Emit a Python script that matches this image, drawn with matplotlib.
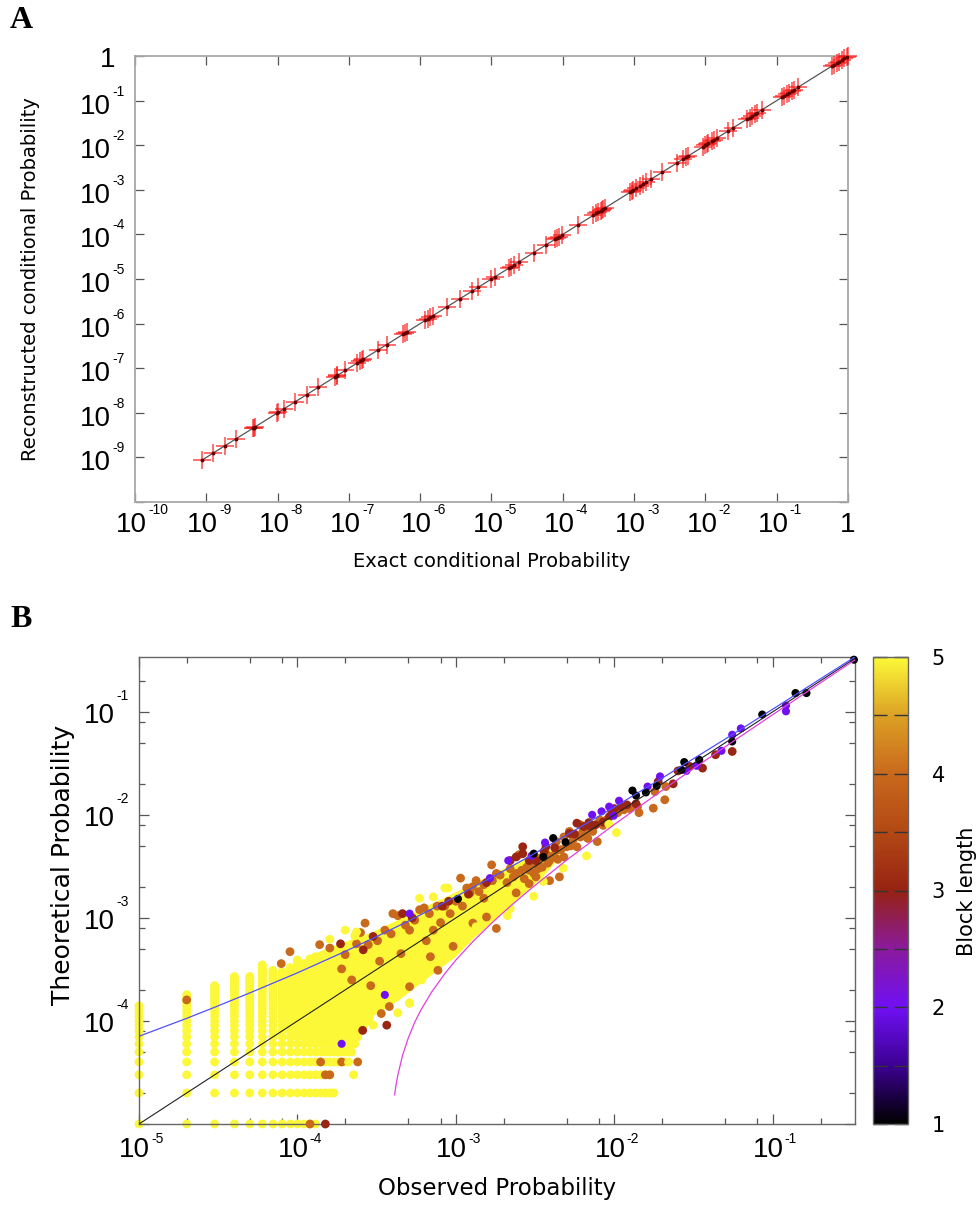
import matplotlib

matplotlib.use("Agg")
import matplotlib.pyplot as plt
import matplotlib.transforms as mtransforms
import numpy as np
from matplotlib.colors import LinearSegmentedColormap
from matplotlib.ticker import FixedLocator, LogLocator, NullFormatter, NullLocator

plt.rcParams["font.family"] = ["Liberation Sans", "DejaVu Sans"]

# ==========================================================================
# PANEL A DATA  (log10 of exact probability; reconstructed sits on diagonal)
# ==========================================================================
exact_log10 = [
    -9.06, -8.90, -8.74, -8.58, -8.34, -8.33, -8.32, -8.01, -7.99, -7.91,
    -7.76, -7.59, -7.43, -7.19, -7.17, -7.16, -7.05, -6.89, -6.84, -6.82,
    -6.80, -6.59, -6.47, -6.24, -6.21, -6.19, -5.93, -5.89, -5.86, -5.82,
    -5.63, -5.44, -5.28, -5.19, -5.00, -4.95, -4.76, -4.72, -4.69, -4.62,
    -4.41, -4.23, -4.11, -4.08, -4.06, -4.01, -3.78, -3.57, -3.53, -3.50,
    -3.47, -3.45, -3.43, -3.41, -3.06, -3.03, -3.01, -2.97, -2.92, -2.88,
    -2.83, -2.76, -2.61, -2.40, -2.31, -2.27, -2.24, -2.03, -2.00, -1.98,
    -1.96, -1.91, -1.88, -1.84, -1.68, -1.61, -1.42, -1.38, -1.35, -1.31,
    -1.28, -1.21, -0.93, -0.90, -0.86, -0.83, -0.79, -0.76, -0.70, -0.23,
    -0.20, -0.16, -0.13, -0.09, -0.05, -0.02, 0.00,
]
recon_log10 = list(exact_log10)

# ==========================================================================
# PANEL B DATA
# ==========================================================================
count_unit = 1e-5  # observed / theoretical probabilities are counts of 1e-5

# low-count lattice: columns (observed count -> highest theoretical count)
grid_col_counts = [1, 2, 3, 4, 5, 6, 7, 8, 9, 10, 11, 12, 13]
grid_col_tops = [14, 18, 22, 27, 27, 35, 31, 30, 33, 39, 36, 40, 42]
# rows (theoretical count -> highest observed count)
grid_row_counts = [1, 2, 3, 4, 5, 6, 7, 8, 9, 10]
grid_row_ends = [11, 17, 16, 20, 22, 23, 24, 25, 26, 28]

# outline of the dense yellow core
core_obs = [1.2e-4, 1.5e-4, 2e-4, 3e-4, 5e-4, 1e-3, 2e-3, 3e-3, 4.5e-3,
            3.5e-3, 3e-3, 1.9e-3, 1.22e-3, 9.6e-4, 6.2e-4, 4.2e-4, 2.6e-4, 1.2e-4]
core_theo = [3.8e-4, 4.5e-4, 5.3e-4, 6.6e-4, 9.6e-4, 1.6e-3, 2.7e-3, 3.6e-3, 4.4e-3,
             2.8e-3, 2.25e-3, 1.2e-3, 6.6e-4, 4.5e-4, 2.7e-4, 1.7e-4, 1.08e-4, 1.0e-4]

# scattered points, grouped by block length
obs_b5 = [1.14e-4, 1.6e-4, 2e-4, 2.36e-4, 2.3e-4, 5.9e-4, 7.2e-4, 8.5e-4, 8.9e-4,
          2.6e-4, 3.0e-4, 5.1e-4, 4.4e-4, 6.7e-4, 8.7e-4, 1.17e-3, 1.34e-3, 2.2e-3,
          2.11e-3, 3.56e-3, 4.75e-3, 6.67e-3, 9.22e-3, 1.03e-2, 5.1e-4, 6.1e-4,
          2.85e-4, 4.3e-4, 3.1e-3, 1.67e-4, 2.26e-4, 2.1e-4]
theo_b5 = [3.4e-4, 6.2e-4, 7.6e-4, 7.3e-4, 6.7e-4, 1.55e-3, 1.6e-3, 1.95e-3, 1.95e-3,
           1.09e-4, 9.1e-5, 1.48e-4, 2.0e-4, 3.2e-4, 4.2e-4, 6.1e-4, 8.2e-4, 1.23e-3,
           1.05e-3, 2.25e-3, 3.04e-3, 4.0e-3, 8.13e-3, 6.73e-3, 1.5e-4, 2.5e-4,
           1.07e-4, 1.2e-4, 1.62e-3, 2e-5, 3e-5, 4e-5]

obs_b4 = [0.0211, 0.0208, 0.0180, 0.0176, 0.0143, 0.0125, 0.0140, 0.0081, 0.0078,
          0.0068, 0.0061, 0.0061, 0.0050, 0.0043, 0.0037, 0.0028, 0.0024, 0.0031,
          0.0035, 0.0025, 0.0039, 0.0045, 0.0022, 0.0029, 0.0032, 0.0039, 0.0048,
          0.0058, 0.0073, 0.0052, 0.0043, 0.0048, 0.0032, 0.0018, 0.00123, 0.00134,
          0.0029, 0.0024, 0.0018, 7.7e-4, 0.00168, 0.00107,
          0.0023, 0.0026, 0.0027, 0.0030, 0.0033, 0.0034, 0.0038, 0.0041, 0.0044,
          0.0046, 0.0053, 0.0055, 0.0063, 0.0066, 0.0070, 0.0085, 0.0090, 0.0105,
          0.0115,
          8.97e-5, 7.9e-5, 1.38e-4, 1.6e-4, 2.36e-4, 2.67e-4, 2.5e-4, 3.56e-4,
          4.0e-4, 4.3e-4, 5.9e-4, 6.3e-4, 7.6e-4, 1.17e-3, 1.27e-3, 1.5e-3,
          5.1e-4, 7.2e-4, 9.2e-4, 9.6e-4, 1.28e-3, 1.5e-3, 1.56e-3, 5.1e-4,
          3.8e-4, 3.38e-4, 1.9e-4, 2.2e-4, 2.9e-4, 3.3e-4, 4.5e-4, 6.5e-4,
          8e-4, 1.1e-3, 6.9e-4, 2.1e-3, 1.9e-3,
          2.0e-4, 2.8e-4, 3.2e-4, 3.9e-4, 4.8e-4, 5.5e-4, 6.8e-4, 8.5e-4, 1.0e-3,
          1.4e-3, 1.7e-3,
          2e-5, 2.4e-4, 1.4e-4, 1.9e-4, 1.6e-4, 1.5e-4, 1.2e-4]
theo_b4 = [0.0188, 0.0140, 0.0168, 0.0116, 0.0105, 0.0115, 0.0120, 0.0089, 0.0055,
           0.0059, 0.0080, 0.0061, 0.0049, 0.0045, 0.0042, 0.0031, 0.0027, 0.0027,
           0.0031, 0.0041, 0.0023, 0.0025, 0.0030, 0.0029, 0.0025, 0.0036, 0.0039,
           0.0049, 0.0069, 0.0069, 0.0055, 0.0061, 0.0036, 0.0027, 0.00175, 0.0023,
           0.00215, 0.00175, 7.9e-4, 3.1e-4, 0.00327, 0.00243,
           0.0025, 0.0029, 0.0024, 0.0033, 0.0030, 0.0038, 0.0034, 0.0040, 0.0037,
           0.0046, 0.0050, 0.0058, 0.0068, 0.0062, 0.0073, 0.0079, 0.0090, 0.0105,
           0.0112,
           4.7e-4, 3.6e-4, 5.5e-4, 5.1e-4, 5.6e-4, 8.9e-4, 7.2e-4, 7.6e-4,
           1.1e-3, 1.05e-3, 1.2e-3, 1.25e-3, 1.3e-3, 1.95e-3, 2.0e-3, 2.1e-3,
           7.6e-4, 7.6e-4, 1.1e-3, 5.3e-4, 8.9e-4, 1.55e-3, 1.02e-3, 2.15e-4,
           1.38e-4, 1.18e-4, 3.2e-4, 2.5e-4, 2.2e-4, 3.8e-4, 4.5e-4, 6.0e-4,
           9e-4, 1.3e-3, 4.2e-4, 2.2e-3, 2.6e-3,
           4.4e-4, 5.5e-4, 6.0e-4, 7.0e-4, 8.5e-4, 9.5e-4, 1.1e-3, 1.3e-3, 1.45e-3,
           1.8e-3, 2.3e-3,
           1.6e-4, 4e-5, 4e-5, 4e-5, 3e-5, 3e-5, 1e-5]

obs_b3 = [0.0554, 0.0435, 0.036, 0.0299, 0.0252, 0.0235, 0.0189, 0.0137, 0.0120,
          0.0110, 0.0100, 0.0093, 0.0085, 0.0070, 0.0064, 0.0058, 0.0052, 0.0037,
          0.0032, 0.00264, 0.00264, 0.0024, 0.0022, 0.00156, 8.2e-4, 4.6e-4,
          2.6e-4, 1.87e-4, 3.66e-4, 2.58e-4, 1.5e-4,
          0.0029, 0.0036, 0.0042, 0.0056, 0.0069, 0.0076, 0.0096,
          3.0e-4, 5.3e-4, 9e-4, 1.2e-3]
theo_b3 = [0.0412, 0.0383, 0.0284, 0.0295, 0.0267, 0.0200, 0.0210, 0.0128, 0.0125,
           0.0120, 0.0115, 0.0096, 0.0085, 0.0078, 0.0077, 0.0083, 0.0066, 0.0049,
           0.0036, 0.0042, 0.0049, 0.0039, 0.0036, 0.0022, 1.3e-3, 1.1e-3,
           4.9e-4, 5.6e-4, 9.1e-5, 8.1e-5, 1e-5,
           0.0036, 0.0044, 0.0048, 0.0065, 0.0084, 0.0080, 0.0110,
           6.6e-4, 1.0e-3, 1.45e-3, 1.7e-3]

obs_b2 = [0.121, 0.121, 0.0628, 0.0554, 0.0474, 0.033, 0.0285, 0.0194, 0.0162,
          0.0107, 0.00927, 0.0083, 0.00724, 0.0099, 0.00365, 0.0030, 0.00214,
          0.00164, 5.1e-4, 3.56e-4, 1.9e-4]
theo_b2 = [0.115, 0.101, 0.0689, 0.0598, 0.0418, 0.0299, 0.0267, 0.0236, 0.0188,
           0.0137, 0.012, 0.0108, 0.0100, 0.0098, 0.00538, 0.0040, 0.0036,
           0.00243, 1.1e-3, 1.79e-4, 6.0e-5]

obs_b1 = [0.325, 0.139, 0.163, 0.0857, 0.0554, 0.0343, 0.0276, 0.0265, 0.0185,
          0.0158, 0.0130, 0.0137, 0.00411, 0.00492, 0.00356, 0.0031, 0.00103]
theo_b1 = [0.32, 0.152, 0.152, 0.094, 0.0515, 0.0342, 0.0325, 0.0273, 0.0191,
           0.0165, 0.0172, 0.0154, 0.00594, 0.00543, 0.0039, 0.0042, 0.00153]

# upper (blue) and lower (magenta) bound curves
upper_obs = [1e-5, 2e-5, 3e-5, 5e-5, 1e-4, 2e-4, 3e-4, 5e-4, 1e-3, 2e-3, 3e-3,
             5e-3, 1e-2, 2e-2, 5e-2, 1e-1, 0.33]
upper_theo = [7.1e-5, 1.06e-4, 1.357e-4, 1.87e-4, 2.93e-4, 4.73e-4, 6.34e-4, 9.3e-4,
              1.61e-3, 2.86e-3, 4.06e-3, 6.37e-3, 1.19e-2, 2.27e-2, 5.43e-2, 0.1061, 0.341]
lower_obs = [4.1e-4, 4.2e-4, 4.3e-4, 4.6e-4, 5e-4, 5.5e-4, 6e-4, 7e-4, 8.5e-4, 1e-3,
             1.3e-3, 1.7e-3, 2.2e-3, 3e-3, 5e-3, 1e-2, 2e-2, 5e-2, 1e-1, 0.33]
lower_theo = [1.92e-5, 2.45e-5, 2.98e-5, 4.61e-5, 6.8e-5, 9.74e-5, 1.27e-4, 1.89e-4,
              2.87e-4, 3.9e-4, 6.04e-4, 9.04e-4, 1.295e-3, 1.94e-3, 3.64e-3, 8.07e-3,
              1.727e-2, 4.57e-2, 9.39e-2, 0.319]
diag_B = [1e-5, 0.33]

# palette sampled from the reference colour bar (block length 1 -> 5)
palette_stops = [0.0, 0.125, 0.25, 0.375, 0.5, 0.625, 0.75, 0.875, 1.0]
palette_colors = ["#000000", "#3c0094", "#7010f4", "#8a1a9c", "#962212", "#b24814",
                  "#c8681c", "#dca024", "#fcf838"]


def decade_labels(ax, axis, exps, base_off, sup_off, one_off=None, size=20, sup_size=10):
    """Gnuplot-style '10' with a small raised exponent; offsets in pixels."""
    fig = ax.figure
    trans = ax.get_xaxis_transform() if axis == "x" else ax.get_yaxis_transform()
    for e in exps:
        v = 10.0 ** e
        pos = (v, 0) if axis == "x" else (0, v)
        if e == 0:
            t = mtransforms.offset_copy(trans, fig=fig, x=one_off[0], y=one_off[1], units="dots")
            ax.text(*pos, "1", transform=t, ha="center" if axis == "x" else "right",
                    va="baseline", fontsize=size, clip_on=False)
            continue
        tb = mtransforms.offset_copy(trans, fig=fig, x=base_off[0], y=base_off[1], units="dots")
        ts = mtransforms.offset_copy(trans, fig=fig, x=sup_off[0], y=sup_off[1], units="dots")
        ax.text(*pos, "10", transform=tb, ha="right", va="baseline", fontsize=size, clip_on=False)
        ax.text(*pos, f"-{-e}", transform=ts, ha="left", va="baseline", fontsize=sup_size,
                clip_on=False)


fig = plt.figure(figsize=(9.78, 12.08), dpi=100)

# ==========================================================================
# PANEL A
# ==========================================================================
axA = fig.add_axes([135 / 978, 1 - 502 / 1208, 713 / 978, 446 / 1208])
axA.set_xscale("log")
axA.set_yscale("log")
axA.set_xlim(1e-10, 1)
axA.set_ylim(1e-10, 1)

ex = 10.0 ** np.array(exact_log10)
rc = 10.0 ** np.array(recon_log10)
axA.plot([ex.min(), ex.max()], [ex.min(), ex.max()], color="#555555", lw=0.9, zorder=2)
axA.plot(ex, rc, ls="none", marker="+", ms=13, mew=1.2, color="#ff1010", alpha=0.7,
         zorder=3, clip_on=False)
axA.plot(ex, rc, ls="none", marker="o", ms=1.8, color="#660000", zorder=4)

axA.xaxis.set_major_locator(FixedLocator([10.0 ** e for e in range(-10, 1)]))
axA.yaxis.set_major_locator(FixedLocator([10.0 ** e for e in range(-10, 1)]))
for axis in (axA.xaxis, axA.yaxis):
    axis.set_minor_locator(NullLocator())
    axis.set_major_formatter(NullFormatter())
axA.tick_params(which="both", direction="in", top=True, right=True, length=6.5,
                width=0.9, color="#555555")
for sp in axA.spines.values():
    sp.set_color("#a8a8a8")
    sp.set_linewidth(1.3)

decade_labels(axA, "x", range(-10, 1), base_off=(12, -30), sup_off=(13, -12), one_off=(0, -30))
decade_labels(axA, "y", range(-9, 1), base_off=(-24, -13), sup_off=(-23, 5), one_off=(-20, -11))

axA.set_xlabel("Exact conditional Probability", family="DejaVu Sans", fontsize=14)
axA.xaxis.set_label_coords(0.5, -0.112)
axA.set_ylabel("Reconstructed conditional Probability", family="DejaVu Sans", fontsize=14)
axA.yaxis.set_label_coords(-0.133, 0.5)

# ==========================================================================
# PANEL B
# ==========================================================================
axB = fig.add_axes([139 / 978, 1 - 1124 / 1208, 716 / 978, 467 / 1208])
axB.set_xscale("log")
axB.set_yscale("log")
axB.set_xlim(1e-5, 0.33)
axB.set_ylim(1e-5, 0.34)

cmap = LinearSegmentedColormap.from_list("blocklen", list(zip(palette_stops, palette_colors)))
yellow = cmap(1.0)

cells = set()
for k, top in zip(grid_col_counts, grid_col_tops):
    for j in range(1, top + 1):
        cells.add((k, j))
for j, end in zip(grid_row_counts, grid_row_ends):
    for k in range(1, end + 1):
        cells.add((k, j))
cells = sorted(cells)
grid_obs = np.array([c[0] for c in cells]) * count_unit
grid_theo = np.array([c[1] for c in cells]) * count_unit

axB.fill(core_obs, core_theo, facecolor=yellow, edgecolor=yellow, lw=6, joinstyle="round",
         zorder=2)
dot = 40
axB.scatter(grid_obs, grid_theo, s=dot, c=[5] * len(grid_obs), cmap=cmap, vmin=1, vmax=5,
            linewidths=0, zorder=2, clip_on=False)
groups = [
    (obs_b4, theo_b4, 4.0, 3),
    (obs_b3, theo_b3, 3.05, 3),
    (obs_b5, theo_b5, 5.0, 3),
    (obs_b2, theo_b2, 2.0, 4),
    (obs_b1, theo_b1, 1.0, 4),
]
sc = None
for xs, ys, bl, z in groups:
    sc = axB.scatter(xs, ys, s=dot if bl > 2.5 else 34, c=[bl] * len(xs), cmap=cmap,
                     vmin=1, vmax=5, linewidths=0, zorder=z, clip_on=False)

axB.plot(diag_B, diag_B, color="#222222", lw=0.8, zorder=5)
axB.plot(upper_obs, upper_theo, color="#5050ff", lw=0.9, zorder=5)
axB.plot(lower_obs, lower_theo, color="#e040e0", lw=0.9, zorder=5)

for axis in (axB.xaxis, axB.yaxis):
    axis.set_major_locator(FixedLocator([10.0 ** e for e in range(-5, 0)]))
    axis.set_minor_locator(LogLocator(base=10, subs=[2, 5, 8]))
    axis.set_major_formatter(NullFormatter())
    axis.set_minor_formatter(NullFormatter())
axB.tick_params(which="both", direction="in", top=True, right=True, color="#555555", width=0.9)
axB.tick_params(which="major", length=7)
axB.tick_params(which="minor", length=4.3)
for sp in axB.spines.values():
    sp.set_color("#666666")
    sp.set_linewidth(1.0)

decade_labels(axB, "x", range(-5, 0), base_off=(11, -33), sup_off=(12, -19))
decade_labels(axB, "y", range(-4, 0), base_off=(-24, -11), sup_off=(-23, 12))

axB.set_xlabel("Observed Probability", family="DejaVu Sans", fontsize=16.5)
axB.xaxis.set_label_coords(0.5, -0.114)
axB.set_ylabel("Theoretical Probability", family="DejaVu Sans", fontsize=18)
axB.yaxis.set_label_coords(-0.089, 0.555)

cax = fig.add_axes([873 / 978, 1 - 1124 / 1208, 35 / 978, 467 / 1208])
cb = fig.colorbar(sc, cax=cax, ticks=[1, 2, 3, 4, 5])
cb.outline.set_edgecolor("#666666")
cb.outline.set_linewidth(1.0)
cax.yaxis.set_minor_locator(FixedLocator([1.5, 2.5, 3.5, 4.5]))
cax.tick_params(which="both", direction="in", left=True, right=True, length=10, width=1.0,
                color="#333333", pad=17, labelsize=15)
for lab in cax.get_yticklabels():
    lab.set_family("DejaVu Sans")
fig.text(967 / 978, 1 - 891 / 1208, "Block length", family="DejaVu Sans", fontsize=15,
         rotation=90, ha="center", va="center")

fig.text(10 / 978, 1 - 6 / 1208, "A", family="Liberation Serif", weight="bold", fontsize=23,
         va="top", ha="left")
fig.text(10 / 978, 1 - 605 / 1208, "B", family="Liberation Serif", weight="bold", fontsize=23,
         va="top", ha="left")

fig.savefig("out.png", dpi=100)
